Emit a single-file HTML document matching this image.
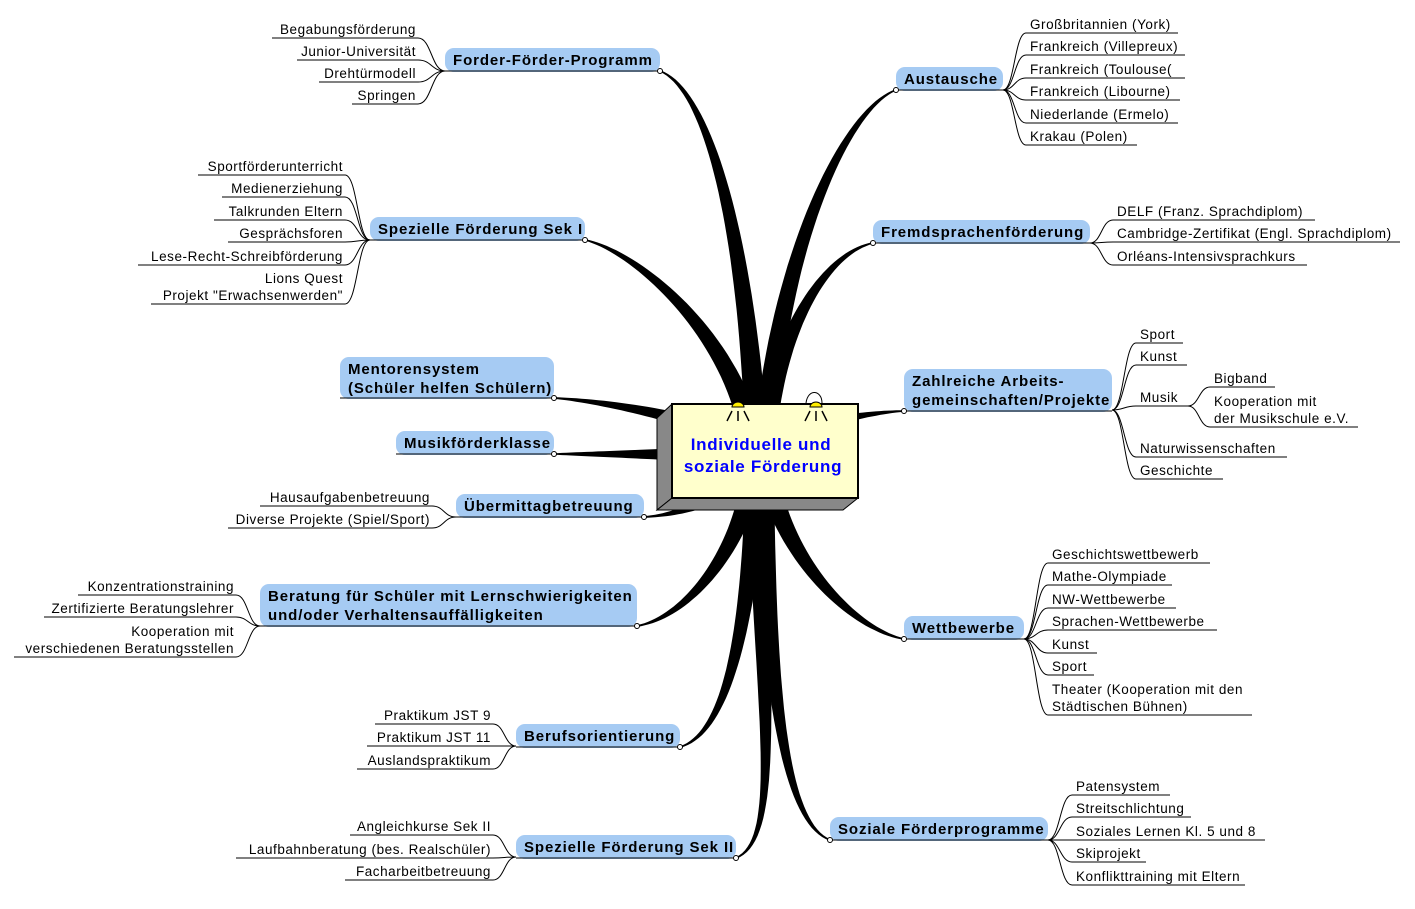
<!DOCTYPE html>
<html><head><meta charset="utf-8"><style>
html,body{margin:0;padding:0;background:#fff;}
svg{display:block;}
text{font-family:"Liberation Sans",Arial,sans-serif;}
.l{font-size:13.5px;fill:#000;letter-spacing:0.55px;}
.n{font-size:15px;font-weight:bold;fill:#000;letter-spacing:0.9px;}
</style></head><body>
<svg id="s" width="1415" height="909" viewBox="0 0 1415 909" xmlns="http://www.w3.org/2000/svg">
<g id="br"></g><g id="lv" fill="none" stroke="#000" stroke-width="1"></g><g id="nd"></g><g id="tx"></g>
<g id="ctr">
<polygon points="657,418 672,404 672,498 657,510" fill="#888" stroke="#000" stroke-width="1"/>
<polygon points="657,510 672,498 858,498 843,510" fill="#888" stroke="#000" stroke-width="1"/>
<rect x="672" y="404" width="186" height="94" fill="#ffffcc" stroke="#000" stroke-width="2"/>
<path d="M806,403 C808,388 822,390 822,403" fill="none" stroke="#000" stroke-width="1"/>
<path d="M732,407 A6,5 0 0 1 744,407 Z" fill="#ffee00" stroke="#000" stroke-width="1"/>
<path d="M810,407 A6,5 0 0 1 822,407 Z" fill="#ffee00" stroke="#000" stroke-width="1"/>
<g stroke="#000" stroke-width="1.5"><line x1="738" y1="411" x2="738" y2="421"/><line x1="732" y1="411" x2="727" y2="421"/><line x1="744" y1="411" x2="749" y2="421"/>
<line x1="816" y1="411" x2="816" y2="421"/><line x1="810" y1="411" x2="805" y2="421"/><line x1="822" y1="411" x2="827" y2="421"/></g>
<text x="761" y="450" text-anchor="middle" style="font-size:17px;font-weight:bold;fill:#0000ff;letter-spacing:0.7px">Individuelle und</text>
<text x="763" y="472" text-anchor="middle" style="font-size:17px;font-weight:bold;fill:#0000ff;letter-spacing:0.7px">soziale Förderung</text>
</g>
</svg>
<script>
var NS="http://www.w3.org/2000/svg";
function el(p,t,a,txt){var e=document.createElementNS(NS,t);for(var k in a)e.setAttribute(k,a[k]);if(txt!==undefined)e.textContent=txt;document.getElementById(p).appendChild(e);return e;}
var cx=760,cy=455;
var nodes=[
[445,48,660,72,["Forder-Förder-Programm"],'L'],
[370,217,585,241,["Spezielle Förderung Sek I"],'L'],
[340,357,554,399,["Mentorensystem","(Schüler helfen Schülern)"],'L'],
[396,431,554,455,["Musikförderklasse"],'L'],
[456,494,644,518,["Übermittagbetreuung"],'L'],
[260,584,637,627,["Beratung für Schüler mit Lernschwierigkeiten","und/oder Verhaltensauffälligkeiten"],'L'],
[516,724,680,748,["Berufsorientierung"],'L'],
[516,835,736,859,["Spezielle Förderung Sek II"],'L'],
[896,67,1003,91,["Austausche"],'R'],
[873,220,1090,244,["Fremdsprachenförderung"],'R'],
[904,369,1112,412,["Zahlreiche Arbeits-","gemeinschaften/Projekte"],'R'],
[904,616,1024,640,["Wettbewerbe"],'R'],
[830,817,1048,841,["Soziale Förderprogramme"],'R']
];
nodes.forEach(function(n){
 var x1=n[0],y1=n[1],x2=n[2],y2=n[3];
 el('nd','rect',{x:x1,y:y1,width:x2-x1,height:y2-y1,rx:9,fill:'#a6cbf3'});
 el('nd','line',{x1:x1,y1:y2-1,x2:x2,y2:y2-1,stroke:'#000','stroke-width':1});
 n[4].forEach(function(t,i){el('tx','text',{x:x1+8,y:y1+17+i*19,'class':'n'},t);});
 var ex=n[5]=='L'?x2:x1, ey=y2-1;
 var dir=n[5]=='L'?1:-1;
 var P0=[ex,ey],P1=[ex+dir*50,ey+(cy-ey)*0.05],P2=[cx+(ex-cx)*0.12,cy+(ey-cy)*0.55],P3=[cx+(ex-cx)*0.03,cy];
 var N=40,pts=[],L=[],R=[];
 for(var i=0;i<=N;i++){var t=i/N,u=1-t;
  var x=u*u*u*P0[0]+3*u*u*t*P1[0]+3*u*t*t*P2[0]+t*t*t*P3[0];
  var y=u*u*u*P0[1]+3*u*u*t*P1[1]+3*u*t*t*P2[1]+t*t*t*P3[1];pts.push([x,y]);}
 for(var i=0;i<=N;i++){var a=pts[Math.max(0,i-1)],b=pts[Math.min(N,i+1)];
  var dx=b[0]-a[0],dy=b[1]-a[1],l=Math.hypot(dx,dy)||1;var w=0.8+11*Math.pow(i/N,1.2);
  L.push([pts[i][0]-dy/l*w,pts[i][1]+dx/l*w]);R.push([pts[i][0]+dy/l*w,pts[i][1]-dx/l*w]);}
 var all=L.concat(R.reverse());
 el('br','polygon',{points:all.map(function(p){return p[0].toFixed(1)+','+p[1].toFixed(1)}).join(' '),fill:'#000'});
 el('nd','circle',{cx:ex,cy:ey,r:2.5,fill:'#fff',stroke:'#000','stroke-width':1});
});
function leaves(hx,hy,side,items){
 items.forEach(function(it){
  var lines=it[0],uy=it[1],a=it[2],b=it[3];
  el('lv','line',{x1:a,y1:uy,x2:b,y2:uy});
  var jx=side=='L'?b:a;
  var mx=(jx+hx)/2;
  el('lv','path',{d:'M'+jx+','+uy+' C'+mx+','+uy+' '+mx+','+hy+' '+hx+','+hy});
  var nl=lines.length;
  lines.forEach(function(t,i){
   var y=uy-4-(nl-1-i)*17;
   if(side=='L') el('tx','text',{x:b-2,y:y,'text-anchor':'end','class':'l'},t);
   else el('tx','text',{x:a+4,y:y,'class':'l'},t);
  });
 });
}
leaves(445,71,'L',[[["Begabungsförderung"],38,272,418],[["Junior-Universität"],60,297,418],[["Drehtürmodell"],82,319,418],[["Springen"],104,352,418]]);
leaves(370,240,'L',[[["Sportförderunterricht"],175,198,345],[["Medienerziehung"],197,222,345],[["Talkrunden Eltern"],220,214,345],[["Gesprächsforen"],242,228,345],[["Lese-Recht-Schreibförderung"],265,138,345],[["Lions Quest","Projekt \"Erwachsenwerden\""],304,151,345]]);
leaves(456,517,'L',[[["Hausaufgabenbetreuung"],506,260,432],[["Diverse Projekte (Spiel/Sport)"],528,228,432]]);
leaves(260,626,'L',[[["Konzentrationstraining"],595,78,236],[["Zertifizierte Beratungslehrer"],617,44,236],[["Kooperation mit","verschiedenen Beratungsstellen"],657,14,236]]);
leaves(516,746,'L',[[["Praktikum JST 9"],724,375,493],[["Praktikum JST 11"],746,367,493],[["Auslandspraktikum"],769,357,493]]);
leaves(516,857,'L',[[["Angleichkurse Sek II"],835,350,493],[["Laufbahnberatung (bes. Realschüler)"],858,236,493],[["Facharbeitbetreuung"],880,345,493]]);
leaves(1003,90,'R',[[["Großbritannien (York)"],33,1026,1178],[["Frankreich (Villepreux)"],55,1026,1185],[["Frankreich (Toulouse("],78,1026,1185],[["Frankreich (Libourne)"],100,1026,1180],[["Niederlande (Ermelo)"],123,1026,1178],[["Krakau (Polen)"],145,1026,1137]]);
leaves(1090,243,'R',[[["DELF (Franz. Sprachdiplom)"],220,1113,1315],[["Cambridge-Zertifikat (Engl. Sprachdiplom)"],242,1113,1400],[["Orléans-Intensivsprachkurs"],265,1113,1307]]);
leaves(1112,410,'R',[[["Sport"],343,1136,1183],[["Kunst"],365,1136,1187],[["Musik"],406,1136,1188],[["Naturwissenschaften"],457,1136,1287],[["Geschichte"],479,1136,1223]]);
leaves(1188,406,'R',[[["Bigband"],387,1210,1275],[["Kooperation mit","der Musikschule e.V."],427,1210,1358]]);
leaves(1024,639,'R',[[["Geschichtswettbewerb"],563,1048,1210],[["Mathe-Olympiade"],585,1048,1172],[["NW-Wettbewerbe"],608,1048,1176],[["Sprachen-Wettbewerbe"],630,1048,1217],[["Kunst"],653,1048,1097],[["Sport"],675,1048,1094],[["Theater (Kooperation mit den","Städtischen Bühnen)"],715,1048,1252]]);
leaves(1048,840,'R',[[["Patensystem"],795,1072,1170],[["Streitschlichtung"],817,1072,1191],[["Soziales Lernen Kl. 5 und 8"],840,1072,1265],[["Skiprojekt"],862,1072,1146],[["Konflikttraining mit Eltern"],885,1072,1245]]);
</script>
</body></html>
